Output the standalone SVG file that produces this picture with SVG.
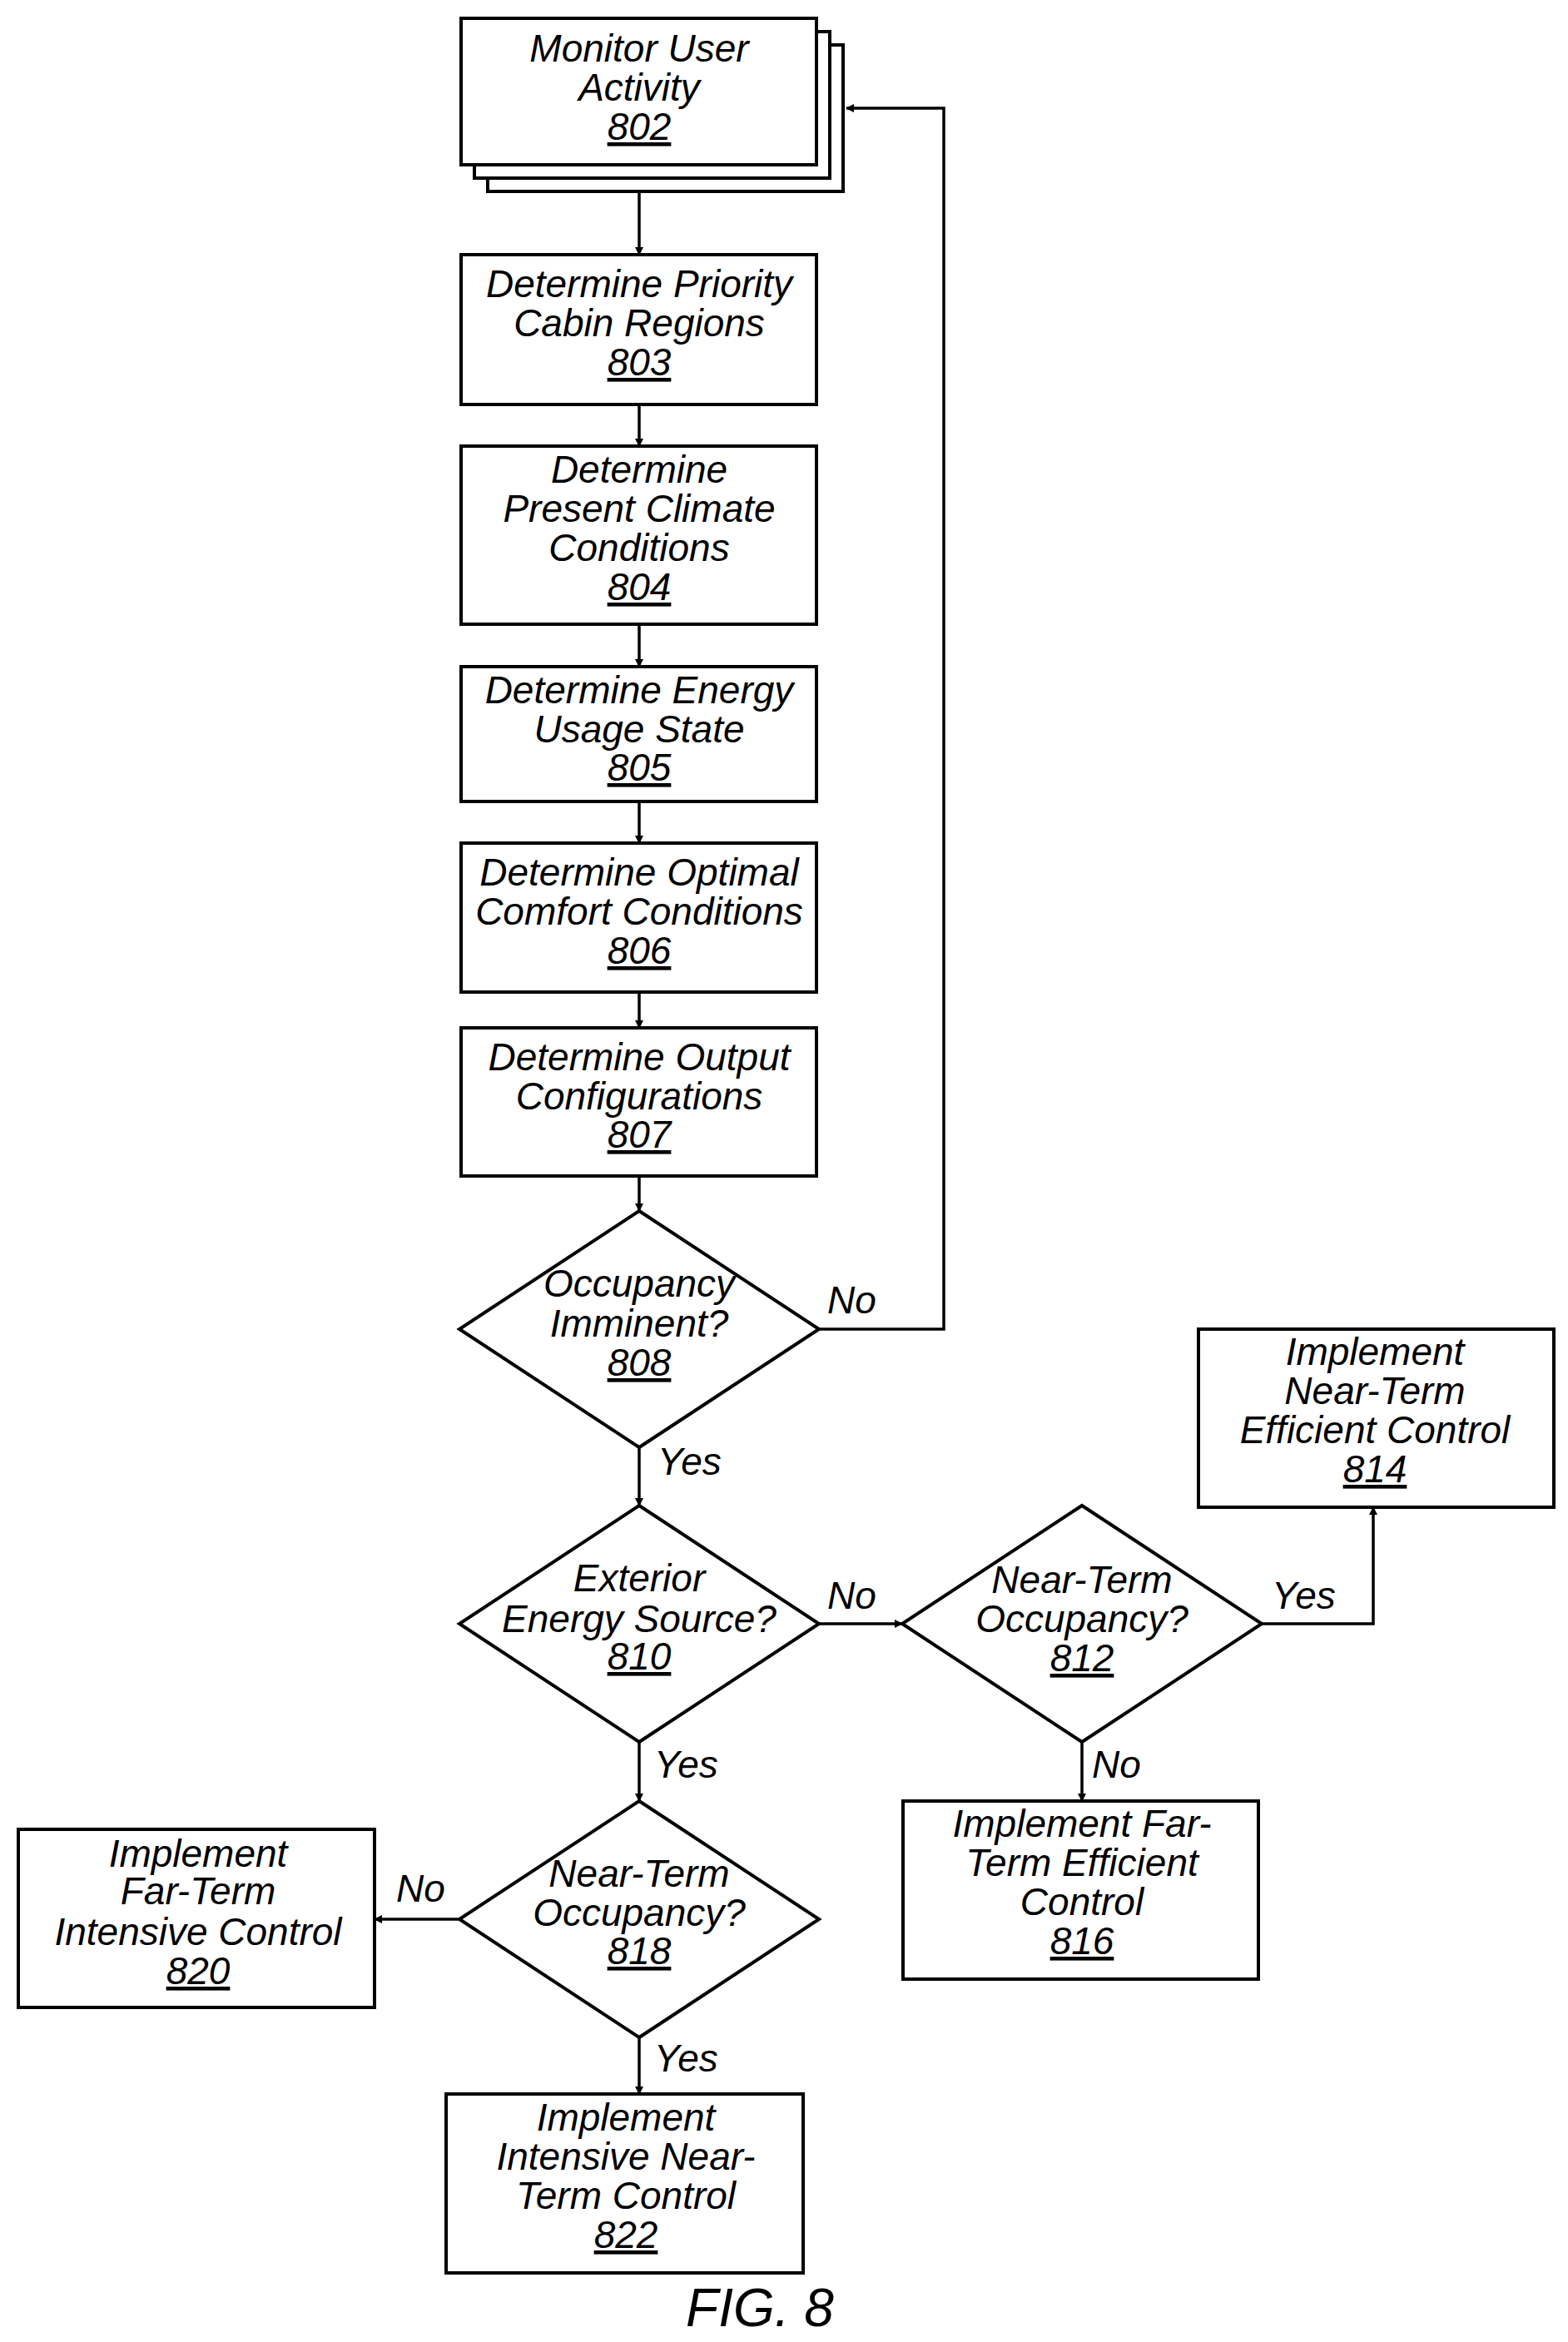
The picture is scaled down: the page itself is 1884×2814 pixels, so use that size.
<svg xmlns="http://www.w3.org/2000/svg" width="1884" height="2814" viewBox="0 0 1884 2814">
<style>
.b{fill:#fff;stroke:#000;stroke-width:4}
.c{fill:none;stroke:#000;stroke-width:3.5;marker-end:url(#a)}
text{font-family:"Liberation Sans",Arial,sans-serif;font-style:italic;font-size:46px;text-anchor:middle;fill:#000}
.u{text-decoration:underline}
.l{text-anchor:start}
</style>
<defs><marker id="a" markerWidth="10" markerHeight="10" refX="9" refY="5" orient="auto" markerUnits="userSpaceOnUse" viewBox="0 0 10 10"><path d="M0,0L10,5L0,10z"/></marker></defs>
<g id="n802"><rect class="b" x="586" y="54" width="427" height="176"/><rect class="b" x="570" y="38" width="427" height="176"/><rect class="b" x="554" y="22" width="427" height="176"/><text x="768" y="74">Monitor User</text><text x="768" y="121">Activity</text><text class="u" x="768" y="168">802</text></g>
<g id="n803"><rect class="b" x="554" y="306" width="427" height="180"/><text x="768" y="357">Determine Priority</text><text x="768" y="404">Cabin Regions</text><text class="u" x="768" y="451">803</text></g>
<g id="n804"><rect class="b" x="554" y="536" width="427" height="214"/><text x="768" y="580">Determine</text><text x="768" y="627">Present Climate</text><text x="768" y="674">Conditions</text><text class="u" x="768" y="721">804</text></g>
<g id="n805"><rect class="b" x="554" y="801" width="427" height="162"/><text x="768" y="845">Determine Energy</text><text x="768" y="892">Usage State</text><text class="u" x="768" y="938">805</text></g>
<g id="n806"><rect class="b" x="554" y="1013" width="427" height="179"/><text x="768" y="1064">Determine Optimal</text><text x="768" y="1111">Comfort Conditions</text><text class="u" x="768" y="1158">806</text></g>
<g id="n807"><rect class="b" x="554" y="1235" width="427" height="178"/><text x="768" y="1286">Determine Output</text><text x="768" y="1333">Configurations</text><text class="u" x="768" y="1379">807</text></g>
<g id="n808"><path class="b" d="M768,1455L984,1597L768,1739L552,1597z"/><text x="768" y="1558">Occupancy</text><text x="768" y="1606">Imminent?</text><text class="u" x="768" y="1653">808</text></g>
<g id="n810"><path class="b" d="M768,1809L984,1951L768,2093L552,1951z"/><text x="768" y="1912">Exterior</text><text x="768" y="1961">Energy Source?</text><text class="u" x="768" y="2006">810</text></g>
<g id="n812"><path class="b" d="M1300,1809L1516,1951L1300,2093L1084,1951z"/><text x="1300" y="1914">Near-Term</text><text x="1300" y="1961">Occupancy?</text><text class="u" x="1300" y="2008">812</text></g>
<g id="n814"><rect class="b" x="1440" y="1597" width="427" height="214"/><text x="1652" y="1640">Implement</text><text x="1652" y="1687">Near-Term</text><text x="1652" y="1734">Efficient Control</text><text class="u" x="1652" y="1781">814</text></g>
<g id="n816"><rect class="b" x="1085" y="2164" width="427" height="214"/><text x="1300" y="2207">Implement Far-</text><text x="1300" y="2254">Term Efficient</text><text x="1300" y="2301">Control</text><text class="u" x="1300" y="2348">816</text></g>
<g id="n818"><path class="b" d="M768,2164L984,2306L768,2448L552,2306z"/><text x="768" y="2267">Near-Term</text><text x="768" y="2314">Occupancy?</text><text class="u" x="768" y="2360">818</text></g>
<g id="n820"><rect class="b" x="22" y="2198" width="428" height="214"/><text x="238" y="2243">Implement</text><text x="238" y="2288">Far-Term</text><text x="238" y="2337">Intensive Control</text><text class="u" x="238" y="2384">820</text></g>
<g id="n822"><rect class="b" x="536" y="2516" width="429" height="215"/><text x="752" y="2560">Implement</text><text x="752" y="2607">Intensive Near-</text><text x="752" y="2654">Term Control</text><text class="u" x="752" y="2701">822</text></g>
<g id="connectors">
<path class="c" d="M768,230V306"/>
<path class="c" d="M768,486V536"/>
<path class="c" d="M768,750V801"/>
<path class="c" d="M768,963V1013"/>
<path class="c" d="M768,1192V1235"/>
<path class="c" d="M768,1413V1455"/>
<path class="c" d="M984,1597H1134V130H1017"/>
<path class="c" d="M768,1739V1809"/>
<path class="c" d="M984,1951H1084"/>
<path class="c" d="M1516,1951H1650V1811"/>
<path class="c" d="M1300,2093V2164"/>
<path class="c" d="M768,2093V2164"/>
<path class="c" d="M552,2306H450"/>
<path class="c" d="M768,2448V2516"/>
</g>
<g id="labels">
<text class="l" x="994" y="1578">No</text>
<text class="l" x="790" y="1772">Yes</text>
<text class="l" x="994" y="1933">No</text>
<text class="l" x="1528" y="1933">Yes</text>
<text class="l" x="1312" y="2136">No</text>
<text class="l" x="786" y="2136">Yes</text>
<text class="l" x="476" y="2285">No</text>
<text class="l" x="786" y="2489">Yes</text>
</g>
<text x="913" y="2795" style="font-size:64px">FIG. 8</text>
</svg>
